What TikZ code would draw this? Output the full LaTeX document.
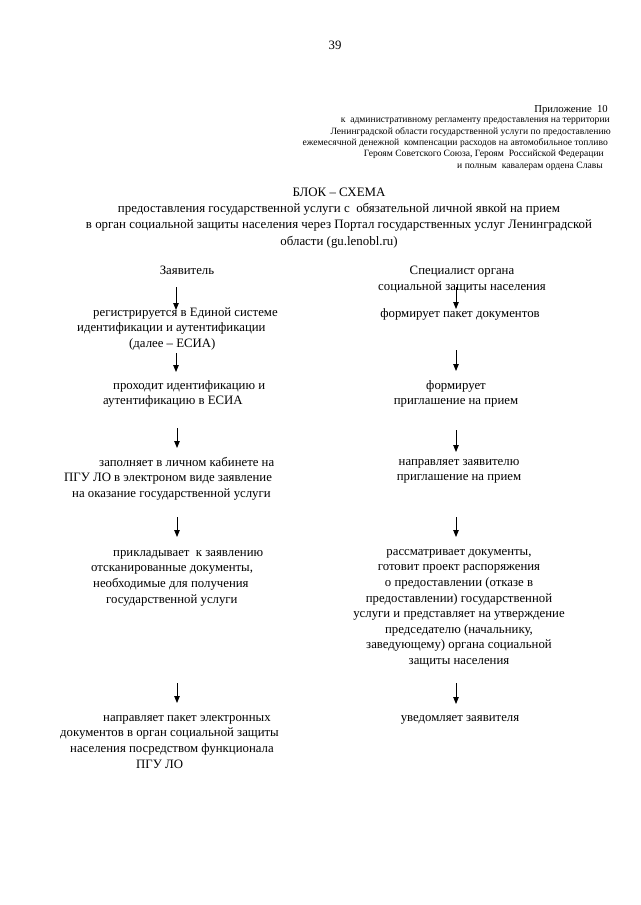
\documentclass[tikz,border=0pt]{standalone}
\usepackage{fontspec}
\setmainfont{Liberation Serif}
\usetikzlibrary{arrows.meta}
\newcommand\bodyf{\fontsize{12.8}{15.6}\selectfont}
\newcommand\titlef{\fontsize{12.9}{16.3}\selectfont}
\newcommand\hdrf{\fontsize{9.6}{11.4}\selectfont}
\begin{document}
\begin{tikzpicture}[x=1pt,y=-1pt,
  txt/.style={inner sep=0pt, font=\bodyf},
  blk/.style={txt, align=center, anchor=north},
  lblk/.style={txt, align=left, anchor=north west},
  hdr/.style={inner sep=0pt, font=\hdrf, anchor=base east},
  arr/.style={-{Triangle[length=7pt,width=5.5pt]}, line width=0.85pt}]
\useasboundingbox (0,0) rectangle (640,905);
\fill[white] (0,0) rectangle (640,905);

% page number
\node[txt, anchor=base] (pg) at (335,49) {39};

% header
\node[inner sep=0pt, font=\fontsize{10.7}{12}\selectfont, anchor=base east] (h0) at (608,112) {Приложение\ \ 10};
\node[hdr] (h1) at (610,122.7) {к\ \ административному регламенту предоставления на территории};
\node[hdr] (h2) at (611,134) {Ленинградской области государственной услуги по предоставлению};
\node[hdr] (h3) at (608,145.5) {ежемесячной денежной\ \ компенсации расходов на автомобильное топливо};
\node[hdr] (h4) at (604,156.8) {Героям Советского Союза, Героям\ \ Российской Федерации};
\node[hdr] (h5) at (603,168) {и полным\ \ кавалерам ордена Славы};

% title
\node[txt, align=center, anchor=north, font=\titlef] (title) at (339,184.6)
 {\strut БЛОК – СХЕМА\\
  предоставления государственной услуги с\ \ обязательной личной явкой на прием\\
  в орган социальной защиты населения через Портал государственных услуг Ленинградской\\
  области (gu.lenobl.ru)};

% column heads
\node[txt, anchor=base] (zv) at (187,274) {Заявитель};
\node[blk, align=center] (sp) at (462,263.4) {\strut Специалист органа\\социальной защиты населения};

% left column
\node[lblk] (L1) at (77,305.1) {\strut\hspace*{16pt}регистрируется в Единой системе\\
  идентификации и аутентификации\\
  \hspace*{52pt}(далее – ЕСИА)};
\node[lblk] (L2) at (103,378.1) {\strut\hspace*{10pt}проходит идентификацию и\\
  аутентификацию в ЕСИА};
\node[lblk] (L3) at (64,455.1) {\strut\hspace*{35pt}заполняет в личном кабинете на\\
  ПГУ ЛО в электроном виде заявление\\
  \hspace*{8pt}на оказание государственной услуги};
\node[lblk] (L4) at (91,545.1) {\strut\hspace*{22pt}прикладывает\ \ к заявлению\\
  отсканированные документы,\\
  \hspace*{2pt}необходимые для получения\\
  \hspace*{15pt}государственной услуги};
\node[lblk] (L5) at (60,710.1) {\strut\hspace*{43pt}направляет пакет электронных\\
  документов в орган социальной защиты\\
  \hspace*{10pt}населения посредством функционала\\
  \hspace*{76pt}ПГУ ЛО};

% right column
\node[blk] (R1) at (460,306.1) {\strut формирует пакет документов};
\node[blk] (R2) at (456,378.1) {\strut формирует\\приглашение на прием};
\node[blk] (R3) at (459,454.1) {\strut направляет заявителю\\приглашение на прием};
\node[blk] (R4) at (459,544.1) {\strut рассматривает документы,\\
  готовит проект распоряжения\\
  о предоставлении (отказе в\\
  предоставлении) государственной\\
  услуги и представляет на утверждение\\
  председателю (начальнику,\\
  заведующему) органа социальной\\
  защиты населения};
\node[blk] (R5) at (460,710.1) {\strut уведомляет заявителя};

% arrows
\coordinate (aL1s) at (176,287); \coordinate (aL1e) at (176,310);
\coordinate (aL2s) at (176,353); \coordinate (aL2e) at (176,372);
\coordinate (aL3s) at (177,428); \coordinate (aL3e) at (177,448);
\coordinate (aL4s) at (177,517); \coordinate (aL4e) at (177,537);
\coordinate (aL5s) at (177,683); \coordinate (aL5e) at (177,703);
\coordinate (aR1s) at (456,287); \coordinate (aR1e) at (456,309);
\coordinate (aR2s) at (456,350); \coordinate (aR2e) at (456,371);
\coordinate (aR3s) at (456,430); \coordinate (aR3e) at (456,452);
\coordinate (aR4s) at (456,517); \coordinate (aR4e) at (456,537);
\coordinate (aR5s) at (456,683); \coordinate (aR5e) at (456,704);
\foreach \a in {L1,L2,L3,L4,L5,R1,R2,R3,R4,R5}
  \draw[arr] (a\a s) -- (a\a e);
\end{tikzpicture}
\end{document}
